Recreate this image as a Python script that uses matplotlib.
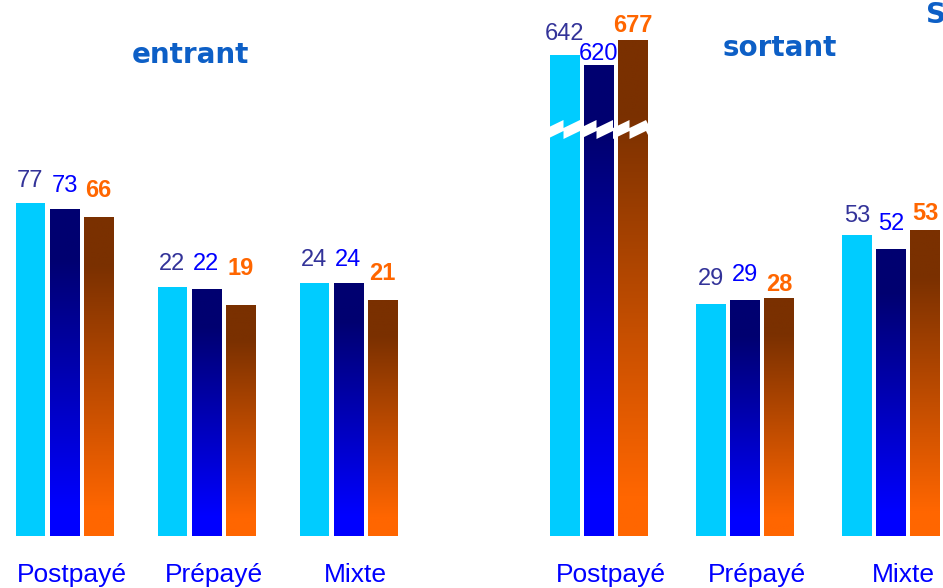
import numpy as np
import matplotlib
matplotlib.use("Agg")
import matplotlib.pyplot as plt
from matplotlib.colors import LinearSegmentedColormap
from matplotlib.patches import Polygon

# ── data ─────────────────────────────────────────────────────────────────
CATEGORIES = ["Postpayé", "Prépayé", "Mixte"]

ENTRANT_VALUES = [[77, 73, 66], [22, 22, 19], [24, 24, 21]]
SORTANT_VALUES = [[642, 620, 677], [29, 29, 28], [53, 52, 53]]

# drawn bar heights (the chart is not to scale, sortant/Postpayé is broken)
ENTRANT_HEIGHTS = [[333, 327, 319], [249, 247, 231], [253, 253, 236]]
SORTANT_HEIGHTS = [[481, 471, 496], [232, 236, 238], [301, 287, 306]]

# ── layout / style ───────────────────────────────────────────────────────
W, H, DPI = 943, 588, 100
BASE = 52            # px from bottom to bar baseline
CYAN = "#00CCFF"
LABEL_COLORS = ["#333399", "#0000FF", "#FF6600"]
TITLE_COLOR = "#0D5FC6"
FONT = "Liberation Sans"

ENTRANT_GAP = [[16, 17, 20], [17, 19, 30], [17, 17, 20]]
SORTANT_GAP = [[15, 5, 8], [19, 19, 7], [13, 19, 10]]

BLUE_CMAP = LinearSegmentedColormap.from_list(
    "blue", [(0, "#0000FF"), (0.08, "#0000FF"), (0.85, "#000070"), (1, "#000070")])
ORANGE_CMAP = LinearSegmentedColormap.from_list(
    "orange", [(0, "#FF6600"), (0.08, "#FF6600"), (0.85, "#7A3000"), (1, "#7A3000")])


def draw_panel(ax, heights, values, gaps, px_per_unit, cat_dx):
    step = 34 / px_per_unit
    width = 29.5 / px_per_unit
    grad = np.linspace(0, 1, 256).reshape(-1, 1)
    for i, (hs, vs, gs) in enumerate(zip(heights, values, gaps)):
        for j in range(3):
            x = i + (j - 1) * step
            if j == 0:
                ax.bar(x, hs[j], width=width, color=CYAN, linewidth=0, zorder=2)
            else:
                bar = ax.bar(x, hs[j], width=width, color="none",
                             linewidth=0, zorder=2)[0]
                im = ax.imshow(grad, cmap=BLUE_CMAP if j == 1 else ORANGE_CMAP,
                               origin="lower", aspect="auto", zorder=2,
                               extent=(x - width / 2, x + width / 2, 0, hs[j]))
                im.set_clip_path(bar)
            ax.annotate(str(vs[j]), (x, hs[j]), xytext=(0, gs[j] * 0.72),
                        textcoords="offset points", ha="center", va="baseline",
                        fontsize=17, family=FONT, color=LABEL_COLORS[j],
                        fontweight="bold" if j == 2 else "normal",
                        annotation_clip=False)
        ax.annotate(CATEGORIES[i], (i, 0), xytext=(cat_dx * 0.72, -46 * 0.72),
                    textcoords="offset points", ha="center", va="baseline",
                    fontsize=19, family=FONT, color="#0000FF",
                    annotation_clip=False)


fig = plt.figure(figsize=(W / DPI, H / DPI), dpi=DPI, facecolor="white")

# ── entrant ──────────────────────────────────────────────────────────────
axl = fig.add_axes([0, BASE / H, 440 / W, (H - BASE) / H])
draw_panel(axl, ENTRANT_HEIGHTS, ENTRANT_VALUES, ENTRANT_GAP, 142, 7)
axl.set_xlim(-64.5 / 142, (440 - 64.5) / 142)
axl.set_ylim(0, H - BASE)
axl.axis("off")

# ── sortant ──────────────────────────────────────────────────────────────
axr = fig.add_axes([490 / W, BASE / H, 453 / W, (H - BASE) / H])
draw_panel(axr, SORTANT_HEIGHTS, SORTANT_VALUES, SORTANT_GAP, 146, 12)
axr.set_xlim(-109 / 146, 344 / 146)
axr.set_ylim(0, H - BASE)
axr.axis("off")

# ── scale-break zigzag across the Postpayé bars ──────────────────────────
px = 146
x0, x1 = -52 / px, 51 / px
period, amp, thick, yb = 16.5 / px, 8, 11, 406
xs = np.arange(x0, x1 + 1e-9, period)
top = []
for k, xa in enumerate(xs[:-1]):
    xb = xs[k + 1]
    top += [(xa, yb + 2), (xb, yb + amp + 2)]
top.append((x1, yb + 2))
bottom = [(x, y - thick) for x, y in reversed(top)]
axr.add_patch(Polygon(top + bottom, closed=True, facecolor="white",
                      edgecolor="none", zorder=5))

# ── titles ───────────────────────────────────────────────────────────────
fig.text(190 / W, 1 - 63 / H, "entrant", ha="center", va="baseline",
         fontsize=20, fontweight="bold", color=TITLE_COLOR, family="DejaVu Sans")
fig.text(780 / W, 1 - 56 / H, "sortant", ha="center", va="baseline",
         fontsize=20, fontweight="bold", color=TITLE_COLOR, family="DejaVu Sans")
# title of the next panel, cut off by the right edge as in the original
fig.text(926 / W, 1 - 23 / H, "S", ha="left", va="baseline",
         fontsize=20, fontweight="bold", color=TITLE_COLOR, family="DejaVu Sans")

fig.savefig("out.png", dpi=DPI, facecolor="white")
